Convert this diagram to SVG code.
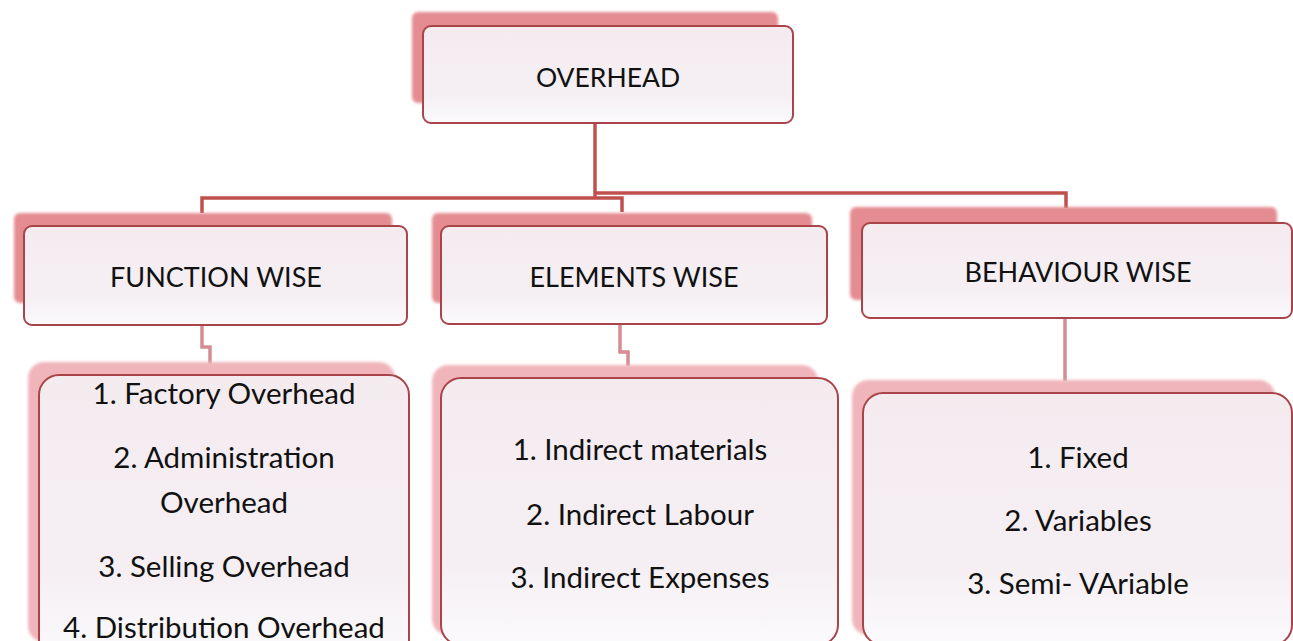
<svg xmlns="http://www.w3.org/2000/svg" width="1293" height="641" viewBox="0 0 1293 641">
<style>
.sh{fill:#e48c91;filter:url(#blur)}
.sh2{fill:#f0b5bb;filter:url(#blur)}
.box{fill:url(#g);stroke:#a9454a;stroke-width:2}
.t{font-family:Lato,"Liberation Sans",sans-serif;font-size:27px;fill:#111;text-anchor:middle}
.l{font-size:29.5px}
.c{fill:none;stroke:#c0504d;stroke-width:3.5}
.c2{fill:none;stroke:#d58d93;stroke-width:3.5}
</style>
<defs>
<filter id="blur" x="-5%" y="-10%" width="110%" height="120%"><feGaussianBlur stdDeviation="1.5"/></filter>
<linearGradient id="g" x1="0" y1="0" x2="0" y2="1">
<stop offset="0" stop-color="#f4ebef"/>
<stop offset="0.7" stop-color="#f5eff3"/>
<stop offset="1" stop-color="#fbfafc"/>
</linearGradient>
</defs>
<rect width="1293" height="641" fill="#fff"/>
<g id="connectors">
<path class="c" d="M595,123 V198"/>
<path class="c" d="M202,213 V198 H622 V212"/>
<path class="c" d="M595,193 H1066 V208"/>
<path class="c2" d="M202,325 V347 H210 V364"/>
<path class="c2" d="M620,324 V352 H628 V366"/>
<path class="c2" d="M1065,318 V381"/>
</g>
<g id="overhead">
<rect class="sh" x="412" y="12" width="366" height="91" rx="6"/>
<rect class="box" x="423" y="26" width="370" height="97" rx="8"/>
<text class="t" x="608" y="87" style="font-size:26.5px">OVERHEAD</text>
</g>
<g id="function-wise">
<rect class="sh" x="14" y="213" width="378" height="90" rx="6"/>
<rect class="box" x="24" y="226" width="383" height="99" rx="8"/>
<text class="t" x="216" y="287">FUNCTION WISE</text>
</g>
<g id="elements-wise">
<rect class="sh" x="432" y="213" width="380" height="90" rx="6"/>
<rect class="box" x="441" y="226" width="386" height="98" rx="8"/>
<text class="t" x="634" y="287">ELEMENTS WISE</text>
</g>
<g id="behaviour-wise">
<rect class="sh" x="850" y="207" width="427" height="93" rx="6"/>
<rect class="box" x="862" y="223" width="430" height="95" rx="8"/>
<text class="t" x="1078" y="282">BEHAVIOUR WISE</text>
</g>
<g id="function-list">
<rect class="sh2" x="28" y="362" width="367" height="280" rx="16"/>
<rect class="box" x="39" y="375" width="370" height="285" rx="20"/>
<text class="t l" x="224" y="404">1. Factory Overhead</text>
<text class="t l" x="224" y="468">2. Administration</text>
<text class="t l" x="224" y="513">Overhead</text>
<text class="t l" x="224" y="577">3. Selling Overhead</text>
<text class="t l" x="224" y="638">4. Distribution Overhead</text>
</g>
<g id="elements-list">
<rect class="sh2" x="432" y="365" width="386" height="270" rx="16"/>
<rect class="box" x="441" y="378" width="397" height="267" rx="20"/>
<text class="t l" x="640" y="460">1. Indirect materials</text>
<text class="t l" x="640" y="525">2. Indirect Labour</text>
<text class="t l" x="640" y="588">3. Indirect Expenses</text>
</g>
<g id="behaviour-list">
<rect class="sh2" x="852" y="380" width="423" height="255" rx="16"/>
<rect class="box" x="863" y="393" width="429" height="252" rx="20"/>
<text class="t l" x="1078" y="468">1. Fixed</text>
<text class="t l" x="1078" y="531">2. Variables</text>
<text class="t l" x="1078" y="594">3. Semi- VAriable</text>
</g>
</svg>
